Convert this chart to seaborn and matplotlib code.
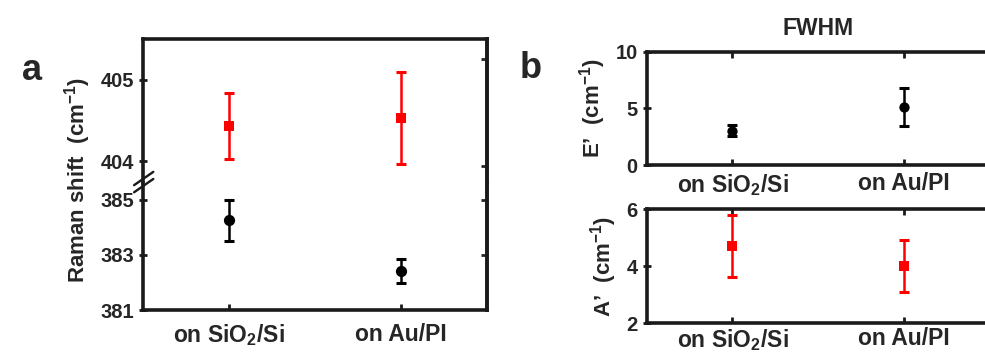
import matplotlib
matplotlib.use("Agg")
import matplotlib.pyplot as plt
import seaborn as sns
import numpy as np

# substrates
categories = ["on SiO$_\\mathbf{2}$/Si", "on Au/PI"]

# Raman shift (cm-1): A' (red) and E' (black)
shift_A = [404.43, 404.53]
shift_A_err = [0.41, 0.57]
shift_E = [384.25, 382.41]
shift_E_err = [0.75, 0.43]

# FWHM (cm-1)
fwhm_E = [3.03, 5.12]
fwhm_E_err = [0.50, 1.65]
fwhm_A = [4.71, 4.00]
fwhm_A_err = [1.08, 0.91]

sns.set_theme(style="ticks")
plt.rcParams["font.family"] = ["Liberation Sans", "DejaVu Sans"]
plt.rcParams["font.weight"] = "bold"
plt.rcParams["mathtext.fontset"] = "custom"
plt.rcParams["mathtext.bf"] = "Liberation Sans:bold"
plt.rcParams["mathtext.rm"] = "Liberation Sans:bold"
plt.rcParams["mathtext.default"] = "bf"

RED = "#ff0000"
BLK = "#000000"
FS_Y = 14.5   # y tick labels
FS_X = 16.5   # x tick labels
FS_L = 16     # axis labels
LW = 2.6

fig = plt.figure(figsize=(9.85, 3.52), dpi=100)
x = np.arange(len(categories))


def draw_points(ax, vals, errs, color, marker, size):
    ax.errorbar(x, vals, yerr=errs, fmt="none", ecolor=color, elinewidth=1.8,
                capsize=3.5, capthick=2.2, zorder=2)
    sns.scatterplot(x=x, y=vals, ax=ax, color=color, marker=marker, s=size,
                    edgecolor=color, linewidth=0, zorder=3, legend=False)


def style_axes(ax):
    for sp in ax.spines.values():
        sp.set_linewidth(LW)
        sp.set_color("#1a1a1a")
    ax.tick_params(axis="both", width=2, length=4, color="#1a1a1a")
    ax.tick_params(axis="y", labelsize=FS_Y)
    for lab in ax.get_yticklabels():
        lab.set_fontweight("bold")
    ax.set_xlim(-0.5, 1.5)
    ax.set_xlabel("")
    ax.set_ylabel("")


# ---- panel a: broken y axis ----
ax_top = fig.add_axes([0.1452, 0.4801, 0.3489, 0.4091])
ax_bot = fig.add_axes([0.1452, 0.1193, 0.3489, 0.3608])

draw_points(ax_top, shift_A, shift_A_err, RED, "s", 45)
draw_points(ax_bot, shift_E, shift_E_err, BLK, "o", 65)

ax_top.set_ylim(403.73, 405.5)
ax_bot.set_ylim(381, 385.6)
ax_top.set_yticks([404, 405])
ax_bot.set_yticks([381, 383, 385])

style_axes(ax_top)
style_axes(ax_bot)
ax_top.spines["bottom"].set_visible(False)
ax_bot.spines["top"].set_visible(False)
ax_top.set_xticks([])
ax_bot.set_xticks(x)
ax_bot.set_xticklabels(categories, fontsize=FS_X, fontweight="bold")
ax_bot.tick_params(axis="x", direction="in", pad=9)
ax_top.tick_params(axis="y", direction="inout", length=6)
ax_bot.tick_params(axis="y", direction="inout", length=6)

# right-side inner ticks
sec_top = ax_top.secondary_yaxis("right")
sec_top.set_yticks([403.94, 405.26])
sec_top.tick_params(direction="in", length=4, width=2, labelright=False)
sec_bot = ax_bot.secondary_yaxis("right")
sec_bot.set_yticks([383, 385])
sec_bot.tick_params(direction="in", length=4, width=2, labelright=False)
for s in (sec_top, sec_bot):
    s.spines["right"].set_linewidth(LW)

# break marks on the left spine
for dy in (-0.028, 0.028):
    ax_bot.plot([-0.026, 0.030], [0.955 + dy, 1.06 + dy],
                transform=ax_bot.transAxes, color="#1a1a1a", lw=1.7, clip_on=False)

fig.text(0.079, 0.489, "Raman shift  (cm$^{-1}$)", rotation=90, ha="center",
         va="center", fontsize=FS_L, fontweight="bold")
fig.text(0.022, 0.80, "a", fontsize=26, fontweight="bold", ha="left", va="center")

# ---- panel b: FWHM ----
ax_e = fig.add_axes([0.6565, 0.5312, 0.3486, 0.3219])
ax_a = fig.add_axes([0.6565, 0.0815, 0.3486, 0.3239])

draw_points(ax_e, fwhm_E, fwhm_E_err, BLK, "o", 55)
draw_points(ax_a, fwhm_A, fwhm_A_err, RED, "s", 45)

ax_e.set_ylim(0, 10)
ax_e.set_yticks([0, 5, 10])
ax_a.set_ylim(2, 6)
ax_a.set_yticks([2, 4, 6])

for ax in (ax_e, ax_a):
    style_axes(ax)
    ax.set_xticks(x)
    ax.set_xticklabels(categories, fontsize=FS_X, fontweight="bold")
    ax.tick_params(axis="x", direction="in", top=True, pad=5)
    ax.tick_params(axis="y", direction="inout", length=6)
    ax.spines["right"].set_visible(False)
ax_a.tick_params(axis="x", pad=3)

ax_e.set_ylabel("E’  (cm$^{-1}$)", fontsize=FS_L, fontweight="bold", labelpad=5)
ax_a.set_ylabel("A’  (cm$^{-1}$)", fontsize=FS_L, fontweight="bold", labelpad=5)
ax_e.set_title("FWHM", fontsize=16.5, fontweight="bold", pad=12)

fig.text(0.528, 0.805, "b", fontsize=26, fontweight="bold", ha="left", va="center")

fig.savefig("out.png", dpi=100, facecolor="white")
